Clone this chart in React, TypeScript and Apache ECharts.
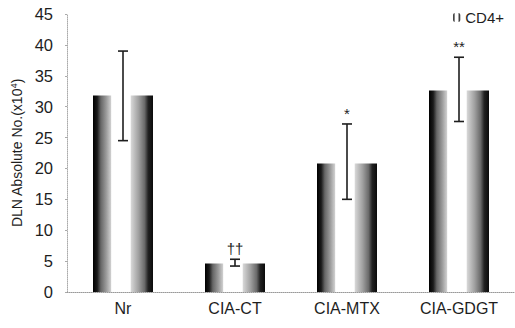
import React, { useEffect, useRef } from "react";
import * as echarts from "echarts";

const categories = ["Nr", "CIA-CT", "CIA-MTX", "CIA-GDGT"];
const cd4Means = [31.8, 4.6, 20.8, 32.6];
const errLow = [24.5, 4.2, 15.0, 27.6];
const errHigh = [39.0, 5.3, 27.2, 38.0];
const marks = ["", "\u2020\u2020", "*", "**"];

const FONT = "Liberation Sans, Arial, sans-serif";
const INK = "#1e1e1e";

// cylinder-like shading: dark edges, mottled gray, white core
const barFill = new echarts.graphic.LinearGradient(0, 0, 1, 0, [
  { offset: 0, color: "#000000" },
  { offset: 0.07, color: "#1a1a1a" },
  { offset: 0.13, color: "#666666" },
  { offset: 0.22, color: "#9a9a9a" },
  { offset: 0.3, color: "#d0d0d0" },
  { offset: 0.31, color: "#ffffff" },
  { offset: 0.62, color: "#ffffff" },
  { offset: 0.64, color: "#d4d4d4" },
  { offset: 0.76, color: "#a0a0a0" },
  { offset: 0.86, color: "#6a6a6a" },
  { offset: 0.92, color: "#222222" },
  { offset: 1, color: "#0a0a0a" },
]);

export default function App() {
  const ref = useRef<HTMLDivElement>(null);

  useEffect(() => {
    if (!ref.current) return;
    const chart = echarts.init(ref.current, undefined, { renderer: "svg" });

    const errData = categories.map((_, i) => [i, errLow[i], errHigh[i]]);

    chart.setOption({
      animation: false,
      backgroundColor: "#ffffff",
      color: [INK, INK],
      textStyle: { fontFamily: FONT },
      legend: {
        top: 5,
        right: 6,
        itemWidth: 7,
        itemHeight: 9,
        itemGap: 4,
        textStyle: { fontSize: 15, color: INK, fontFamily: FONT },
        data: ["CD4+"],
      },
      grid: { left: 67, top: 14, width: 451, height: 278, containLabel: false },
      xAxis: {
        type: "category",
        data: categories,
        boundaryGap: true,
        axisLine: { lineStyle: { color: "#999", type: "dotted", width: 1 } },
        axisTick: { show: false },
        axisLabel: { fontSize: 16, color: INK, margin: 8, fontFamily: FONT },
      },
      yAxis: {
        type: "value",
        min: 0,
        max: 45,
        interval: 5,
        name: "{a|DLN Absolute No.(x10}{s|4}{a|)}",
        nameLocation: "middle",
        nameGap: 40,
        nameRotate: 90,
        nameTextStyle: {
          rich: {
            a: { fontSize: 14, color: INK, fontFamily: FONT },
            s: { fontSize: 9, color: INK, fontFamily: FONT, verticalAlign: "top", padding: [0, 0, 6, 0] },
          },
        },
        axisLine: { show: true, lineStyle: { color: "#aaa", type: "dotted", width: 1 } },
        axisTick: { show: true, length: 2, lineStyle: { color: "#aaa" } },
        splitLine: { show: false },
        axisLabel: { fontSize: 16.5, color: INK, margin: 14, fontFamily: FONT },
      },
      series: [
        {
          name: "CD4+",
          type: "bar",
          data: cd4Means,
          barWidth: 60,
          itemStyle: { color: barFill },
        },
        {
          type: "custom",
          name: "err",
          data: errData,
          z: 10,
          itemStyle: { color: INK },
          renderItem: (params: any, api: any) => {
            const x = api.value(0);
            const lo = api.coord([x, api.value(1)]);
            const hi = api.coord([x, api.value(2)]);
            const cap = 5;
            const style = { stroke: INK, lineWidth: 1.6 };
            const label = marks[params.dataIndex];
            const children: any[] = [
              { type: "line", shape: { x1: hi[0], y1: hi[1], x2: lo[0], y2: lo[1] }, style },
              { type: "line", shape: { x1: hi[0] - cap, y1: hi[1], x2: hi[0] + cap, y2: hi[1] }, style },
              { type: "line", shape: { x1: lo[0] - cap, y1: lo[1], x2: lo[0] + cap, y2: lo[1] }, style },
            ];
            if (label) {
              children.push({
                type: "text",
                x: hi[0],
                y: hi[1] - 3,
                style: {
                  text: label,
                  fill: INK,
                  fontSize: 15,
                  fontFamily: FONT,
                  align: "center",
                  verticalAlign: "bottom",
                },
              });
            }
            return { type: "group", children };
          },
        },
      ],
    });

    return () => chart.dispose();
  }, []);

  return <div ref={ref} style={{ width: 515, height: 328, position: "absolute", left: 0, top: 0 }} />;
}
